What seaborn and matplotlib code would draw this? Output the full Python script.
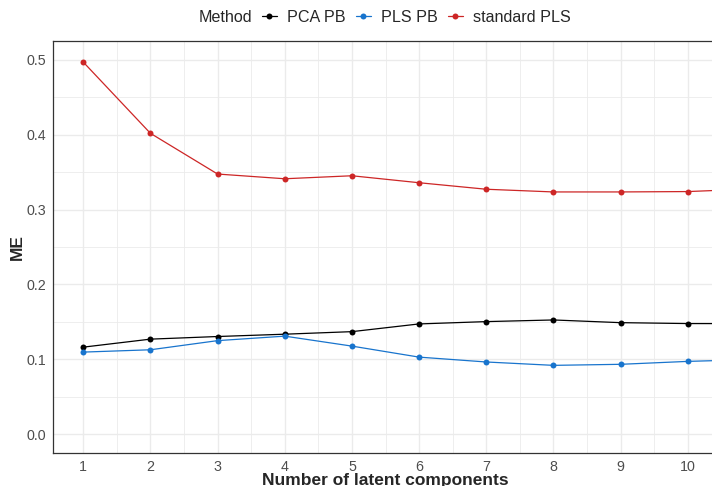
import matplotlib
matplotlib.use("Agg")
import numpy as np
import pandas as pd
import matplotlib.pyplot as plt
import seaborn as sns
from matplotlib.lines import Line2D
from matplotlib.ticker import MultipleLocator, FormatStrFormatter

# ---- data ----
components = [1, 2, 3, 4, 5, 6, 7, 8, 9, 10, 11]
pca_pb = [0.1163, 0.1270, 0.1305, 0.1336, 0.1370, 0.1473, 0.1504, 0.1526, 0.1490, 0.1478, 0.1477]
pls_pb = [0.1097, 0.1128, 0.1250, 0.1310, 0.1177, 0.1030, 0.0965, 0.0920, 0.0934, 0.0973, 0.0998]
standard_pls = [0.4969, 0.4018, 0.3474, 0.3411, 0.3451, 0.3358, 0.3271, 0.3235, 0.3235, 0.3240, 0.3276]
methods = ["PCA PB", "PLS PB", "standard PLS"]
colors = ["#000000", "#1874CD", "#CD2626"]
x_ticks = [1, 2, 3, 4, 5, 6, 7, 8, 9, 10]

df = pd.DataFrame({
    "k": components * 3,
    "ME": pca_pb + pls_pb + standard_pls,
    "Method": [methods[0]] * len(components) + [methods[1]] * len(components) + [methods[2]] * len(components),
})

sns.set_style("white")
plt.rcParams["font.family"] = ["Liberation Sans", "DejaVu Sans"]

fig = plt.figure(figsize=(7.12, 4.86), dpi=100)
ax = fig.add_axes([53 / 712, 33 / 486, 665 / 712, 412 / 486])

sns.lineplot(data=df, x="k", y="ME", hue="Method", palette=dict(zip(methods, colors)),
             hue_order=methods, marker="o", markersize=4.3, markeredgewidth=0,
             linewidth=0.9, ax=ax, legend=False)

ax.set_xlim(0.55, 10.45)
ax.set_ylim(-0.025, 0.525)
ax.set_xticks(x_ticks)
ax.xaxis.set_minor_locator(MultipleLocator(0.5))
ax.yaxis.set_major_locator(MultipleLocator(0.1))
ax.yaxis.set_minor_locator(MultipleLocator(0.05))
ax.yaxis.set_major_formatter(FormatStrFormatter("%.1f"))
ax.set_axisbelow(True)
ax.grid(which="major", color="#EBEBEB", linewidth=1.0)
ax.grid(which="minor", color="#EBEBEB", linewidth=0.6)

for side in ["left", "bottom", "top", "right"]:
    ax.spines[side].set_color("#333333")
    ax.spines[side].set_linewidth(0.9)

ax.tick_params(which="major", length=3, width=0.8, color="#333333",
               labelcolor="#4D4D4D", labelsize=10.3, pad=2)
ax.tick_params(which="minor", length=0)

ax.set_xlabel("Number of latent components", fontsize=12.5, fontweight="bold", labelpad=-0.5)
ax.set_ylabel("ME", fontsize=12.5, fontweight="bold", labelpad=1.2)

handles = [Line2D([0], [0], color=c, lw=0.9, marker="o", markersize=4.3, markeredgewidth=0)
           for c in colors]
fig.text(199 / 712, 1 - 17 / 486, "Method", fontsize=11.6, va="center", ha="left")
fig.legend(handles, methods, loc="center left", bbox_to_anchor=(262 / 712, 1 - 17 / 486),
           ncol=3, frameon=False, fontsize=11.6, handlelength=0.93, handletextpad=0.65,
           columnspacing=0.6, borderaxespad=0, borderpad=0)

fig.savefig("out.png", dpi=100)
